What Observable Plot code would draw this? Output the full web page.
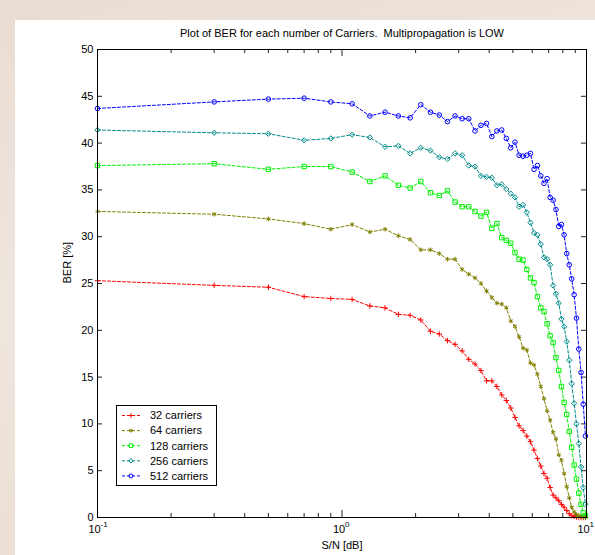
<!DOCTYPE html>
<html>
<head>
<meta charset="utf-8">
<script src="https://cdn.jsdelivr.net/npm/d3@7"></script>
<script src="https://cdn.jsdelivr.net/npm/@observablehq/plot@0.6"></script>
<style>
html,body{margin:0;padding:0;}
body{width:595px;height:555px;overflow:hidden;position:relative;
  background:linear-gradient(160deg,#e9dcd3 0%,#efe6dd 40%,#ece0d6 70%,#e8ddd5 100%);
  font-family:"Liberation Sans",Arial,Helvetica,sans-serif;}
#fig{position:absolute;left:15px;top:20px;width:580px;height:535px;background:#fff;}
#fig svg{display:block;}
</style>
</head>
<body>
<div id="fig"></div>
<script>
// ---------- data ----------
const snr = [0.1,0.3,0.5,0.7,0.9,1.1,1.3,1.5,1.7,1.9,2.1,2.3,2.5,2.7,2.9,3.1,3.3,3.5,3.7,3.9,
  4.1,4.3,4.5,4.7,4.9,5.1,5.3,5.5,5.7,5.9,6.1,6.3,6.5,6.7,6.9,7.1,7.3,7.5,7.7,7.9,
  8.1,8.3,8.5,8.7,8.9,9.1,9.3,9.5,9.7,9.9];
const ber32 = [25.3,24.8,24.6,23.6,23.4,23.3,22.6,22.4,21.7,21.6,
  21.1,19.9,19.6,18.9,18.5,17.8,16.9,16.4,15.7,14.6,
  14.6,14.0,13.1,12.5,11.7,10.7,9.8,9.3,8.7,8.1,
  7.2,6.3,5.5,4.7,4.2,3.2,2.4,2.1,1.8,1.4,
  1.1,0.75,0.4,0.2,0.1,0.05,0,0,0,0];
const ber64 = [32.7,32.4,31.9,31.4,30.8,31.3,30.5,30.8,30.1,29.7,
  28.6,28.6,28.2,27.6,27.6,26.5,26.0,25.6,25.0,24.2,
  23.5,22.9,22.8,22.4,21.0,20.4,19.3,18.1,17.9,16.5,
  16.3,15.3,14.0,12.7,11.4,10.4,9.1,8.4,6.7,6.1,
  4.7,3.3,2.1,1.1,0.6,0.3,0.2,0.1,0.1,0.0];
const ber128 = [37.6,37.8,37.2,37.5,37.5,36.9,35.9,36.5,35.5,35.2,
  35.9,34.7,34.4,34.9,33.7,33.2,33.2,32.7,32.2,32.6,
  30.9,31.4,29.9,29.6,29.3,28.3,27.6,27.5,26.5,25.6,
  25.1,23.6,22.4,22.0,20.7,19.4,18.7,17.1,15.7,14.0,
  12.3,11.0,9.2,7.5,5.6,4.1,2.6,1.4,0.5,0.2];
const ber256 = [41.4,41.1,41.0,40.3,40.5,40.9,40.6,39.6,39.7,38.9,
  39.5,39.2,38.5,38.3,38.9,38.7,37.6,37.5,36.5,36.4,
  36.3,35.5,35.6,35.1,34.6,34.2,33.2,33.4,32.6,31.5,
  30.4,30.2,29.2,27.8,27.6,27.0,24.8,23.9,22.9,21.2,
  20.4,18.8,16.8,14.3,12.2,10.0,7.9,5.4,3.2,1.4];
const ber512 = [43.7,44.4,44.7,44.8,44.4,44.2,42.9,43.3,42.9,42.7,
  44.1,43.3,43.0,42.3,42.9,42.6,42.6,41.3,41.9,42.1,
  40.7,41.3,41.4,40.5,39.5,40.1,38.7,38.6,38.7,38.9,
  37.2,37.6,36.5,35.7,36.2,34.2,33.9,32.9,31.1,31.3,
  30.2,28.2,27.0,25.5,23.8,21.3,18.0,15.5,12.1,8.7];
const seriesNames = ["32 carriers","64 carriers","128 carriers","256 carriers","512 carriers"];
const yTicks = [0,5,10,15,20,25,30,35,40,45,50];
const xMajor = [0.1,1,10];
const xExp = ["-1","0","1"];
const xMinor = [0.2,0.3,0.4,0.5,0.6,0.7,0.8,0.9,2,3,4,5,6,7,8,9];
const titleText = "Plot of BER for each number of Carriers.  Multipropagation is LOW";
const xLabelText = "S/N [dB]";
const yLabelText = "BER [%]";

// ---------- styles ----------
const colors = ["#ff0000","#808000","#00f000","#008b8b","#0000ff"];
const symbols = ["plus","asterisk","square2","diamond2","circle"];
const symbolsD3 = [d3.symbolPlus,d3.symbolAsterisk,d3.symbolSquare2,d3.symbolDiamond2,d3.symbolCircle];
const symR = [1.9,2.2,2.8,2.4,2.3];
const dash = "3,2";

const seriesValues = [ber32,ber64,ber128,ber256,ber512];
const rows = seriesValues.flatMap((vals,s)=>vals.map((v,i)=>({snr:snr[i],ber:v,s})));

const W = 580, H = 535, mt = 29, mb = 38, ml = 82, mr = 9;
const innerH = H - mt - mb, innerW = W - ml - mr;
const font = "'Liberation Sans', Arial, Helvetica, sans-serif";

const seriesMarks = seriesValues.flatMap((_,s)=>{
  const d = rows.filter(r=>r.s===s);
  return [
    Plot.line(d,{x:"snr",y:"ber",stroke:colors[s],strokeWidth:1,strokeDasharray:dash}),
    Plot.dot(d,{x:"snr",y:"ber",symbol:symbols[s],r:symR[s],stroke:colors[s],fill:"none",strokeWidth:1})
  ];
});

const chart = Plot.plot({
  width:W, height:H, marginTop:mt, marginBottom:mb, marginLeft:ml, marginRight:mr,
  style:{fontFamily:font,fontSize:"11px",background:"white",color:"black"},
  x:{type:"log",domain:[0.1,10],axis:null},
  y:{domain:[0,50]},
  marks:[
    // inward ticks
    Plot.tickX(xMinor,{x:d=>d,insetTop:innerH-4,stroke:"#222"}),
    Plot.tickX(xMinor,{x:d=>d,insetBottom:innerH-4,stroke:"#222"}),
    Plot.tickX(xMajor,{x:d=>d,insetTop:innerH-7,stroke:"#222"}),
    Plot.tickX(xMajor,{x:d=>d,insetBottom:innerH-7,stroke:"#222"}),
    Plot.tickY(yTicks,{y:d=>d,insetRight:innerW-5,stroke:"#222"}),
    Plot.tickY(yTicks,{y:d=>d,insetLeft:innerW-5,stroke:"#222"}),
    Plot.axisY({ticks:yTicks,tickSize:0,tickPadding:4,label:null,fontSize:11,tickFormat:d=>String(d)}),
    ...seriesMarks,
    Plot.frame({stroke:"black",strokeWidth:1}),
    // x tick labels 10^n
    Plot.text(xMajor,{x:d=>d,text:()=>"10",frameAnchor:"bottom",dy:15,dx:-3,fontSize:11}),
    Plot.text(xMajor,{x:d=>d,text:(d,i)=>xExp[i],frameAnchor:"bottom",dy:9,dx:3,textAnchor:"start",fontSize:8}),
    Plot.text([xLabelText],{text:d=>d,frameAnchor:"bottom",dy:31,fontSize:11}),
    Plot.text([yLabelText],{text:d=>d,frameAnchor:"left",dx:-30,rotate:-90,fontSize:11}),
    Plot.text([titleText],{text:d=>d,frameAnchor:"top",dy:-20,fontSize:11})
  ]
});
document.getElementById("fig").appendChild(chart);

// ---------- legend ----------
const lg = d3.select("#fig").append("svg")
  .attr("width",102).attr("height",82)
  .style("position","absolute").style("left","101px").style("top","385px")
  .style("font-family",font).style("font-size","11px");
lg.append("rect").attr("x",0.5).attr("y",0.5).attr("width",100).attr("height",80)
  .attr("fill","white").attr("stroke","black");
seriesNames.forEach((name,s)=>{
  const y = 10.5 + s*15.1;
  lg.append("line").attr("x1",6).attr("x2",24).attr("y1",y).attr("y2",y)
    .attr("stroke",colors[s]).attr("stroke-dasharray",dash);
  lg.append("path").attr("d",d3.symbol(symbolsD3[s],Math.PI*symR[s]*symR[s]*0.7)())
    .attr("transform",`translate(15,${y})`).attr("fill","none").attr("stroke",colors[s]);
  lg.append("text").attr("x",34).attr("y",y).attr("dy","0.35em").text(name);
});
</script>
</body>
</html>
